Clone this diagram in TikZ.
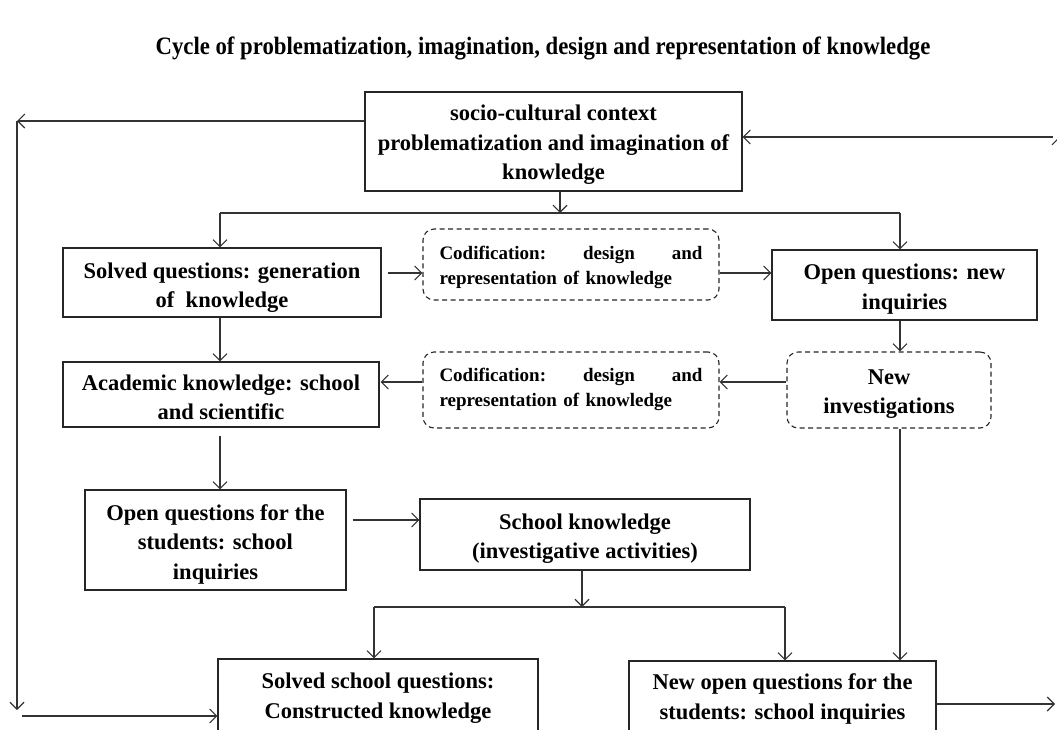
\documentclass[tikz,border=0pt]{standalone}
\usepackage{fontspec}
\setmainfont{Liberation Serif}
\newfontfamily\titlefont{Liberation Serif}[FakeStretch=0.91]
\usetikzlibrary{arrows.meta}
\tikzset{
  box/.style={draw=black!85, line width=1.1pt, inner sep=0pt},
  dbox/.style={box, dash pattern=on 5pt off 3.5pt, rounded corners=11pt},
  bt/.style={inner sep=0pt, align=center, font=\fontsize{22.5}{29.5}\selectfont\bfseries},
  codtext/.style={inner sep=0pt, font=\fontsize{19}{25}\selectfont\bfseries, align=left, text width=263},
  arr/.style={draw=black!80, line width=1.1pt, -{Straight Barb[length=7pt,width=14pt,line width=1.1pt]}},
  ln/.style={draw=black!80, line width=1.1pt},
}
\begin{document}
\begin{tikzpicture}[x=1pt,y=-1pt]
\useasboundingbox (0,0) rectangle (1057,729);
\node[font=\titlefont\fontsize{25}{28}\selectfont\bfseries] (title) at (543,48) {Cycle of problematization, imagination, design and representation of knowledge};

\node[box, minimum width=377, minimum height=99] (top) at (553.5,141.5) {};
\node[bt] (topt) at ([yshift=-3.5]top.center) {socio-cultural context\\problematization and imagination of\\knowledge};
\node[box, minimum width=318, minimum height=69] (solved) at (222,282.5) {};
\node[bt] (solvedt) at ([yshift=-5]solved.center) {Solved questions: generation\\of\ \ knowledge};
\node[dbox, minimum width=296, minimum height=71] (cod1) at (571,264.5) {};
\node[codtext] (cod1t) at ([yshift=-3]cod1.center) {Codification:\hfill design\hfill and\\representation of knowledge};
\node[box, minimum width=265, minimum height=70] (openq) at (904.5,285) {};
\node[bt] (openqt) at ([yshift=-4]openq.center) {Open questions: new\\inquiries};
\node[dbox, minimum width=204, minimum height=76] (newinv) at (889,390) {};
\node[bt] (newinvt) at ([yshift=-4]newinv.center) {New\\investigations};
\node[dbox, minimum width=296, minimum height=76] (cod2) at (571,390) {};
\node[codtext] (cod2t) at ([yshift=1]cod2.center) {Codification:\hfill design\hfill and\\representation of knowledge};
\node[box, minimum width=316, minimum height=65] (acad) at (221,394.5) {};
\node[bt] (acadt) at ([yshift=-3]acad.center) {Academic knowledge: school\\and scientific};
\node[box, minimum width=261, minimum height=100] (openst) at (215.5,540) {};
\node[bt] (openstt) at ([yshift=-4]openst.center) {Open questions for the\\students: school\\inquiries};
\node[box, minimum width=330, minimum height=71] (school) at (585,534.5) {};
\node[bt] (schoolt) at ([yshift=-4]school.center) {School knowledge\\(investigative activities)};
\node[box, minimum width=320, minimum height=72] (solsch) at (378,695) {};
\node[bt] (solscht) at ([yshift=-3]solsch.center) {Solved school questions:\\Constructed knowledge};
\node[box, minimum width=307, minimum height=70] (newopen) at (782.5,696) {};
\node[bt] (newopent) at ([yshift=-3]newopen.center) {New open questions for the\\students: school inquiries};

% outer loop, left
\coordinate (L1) at (17,121);
\coordinate (L2) at (17,710);
\coordinate (L3) at (22,716);
\draw[arr] (L1 -| top.west) -- (L1);
\draw[arr] (L1) -- (L2);
\draw[arr] (L3) -- (L3 -| solsch.west);
% outer loop, right
\coordinate (R1) at (1055,704);
\coordinate (R2) at (1059,704);
\coordinate (R3) at (1059,137);
\coordinate (R4) at (1053,137);
\draw[arr] (R1 -| newopen.east) -- (R1);
\draw[arr] (R2) -- (R3);
\draw[arr] (R4) -- (R4 -| top.east);
% top distribution
\coordinate (J1) at (560,213);
\coordinate (J2) at (220,213);
\coordinate (J3) at (900,213);
\draw[arr] (J1 |- top.south) -- (J1);
\draw[ln] (J2) -- (J3);
\draw[arr] (J2) -- (J2 |- solved.north);
\draw[arr] (J3) -- (J3 |- openq.north);
% first row
\coordinate (Y1) at (0,273);
\draw[arr] ([xshift=6]Y1 -| solved.east) -- (Y1 -| cod1.west);
\draw[arr] (Y1 -| cod1.east) -- (Y1 -| openq.west);
\draw[arr] (J3 |- openq.south) -- (J3 |- newinv.north);
% second row
\coordinate (Y2) at (0,382);
\draw[arr] (Y2 -| newinv.west) -- (Y2 -| cod2.east);
\draw[arr] (Y2 -| cod2.west) -- ([xshift=1]Y2 -| acad.east);
\draw[arr] (J2 |- solved.south) -- (J2 |- acad.north);
\draw[arr] ([yshift=-8]J2 |- acad.south) -- (J2 |- openst.north);
% third row
\coordinate (Y3) at (0,520);
\draw[arr] ([xshift=6]Y3 -| openst.east) -- (Y3 -| school.west);
\coordinate (J4) at (582,607);
\coordinate (J5) at (374,607);
\coordinate (J6) at (785,607);
\draw[arr] (J4 |- school.south) -- (J4);
\draw[ln] (J5) -- (J6);
\draw[arr] (J5) -- (J5 |- solsch.north);
\draw[arr] (J6) -- (J6 |- newopen.north);
\draw[arr] (J3 |- newinv.south) -- (J3 |- newopen.north);
\end{tikzpicture}
\end{document}
